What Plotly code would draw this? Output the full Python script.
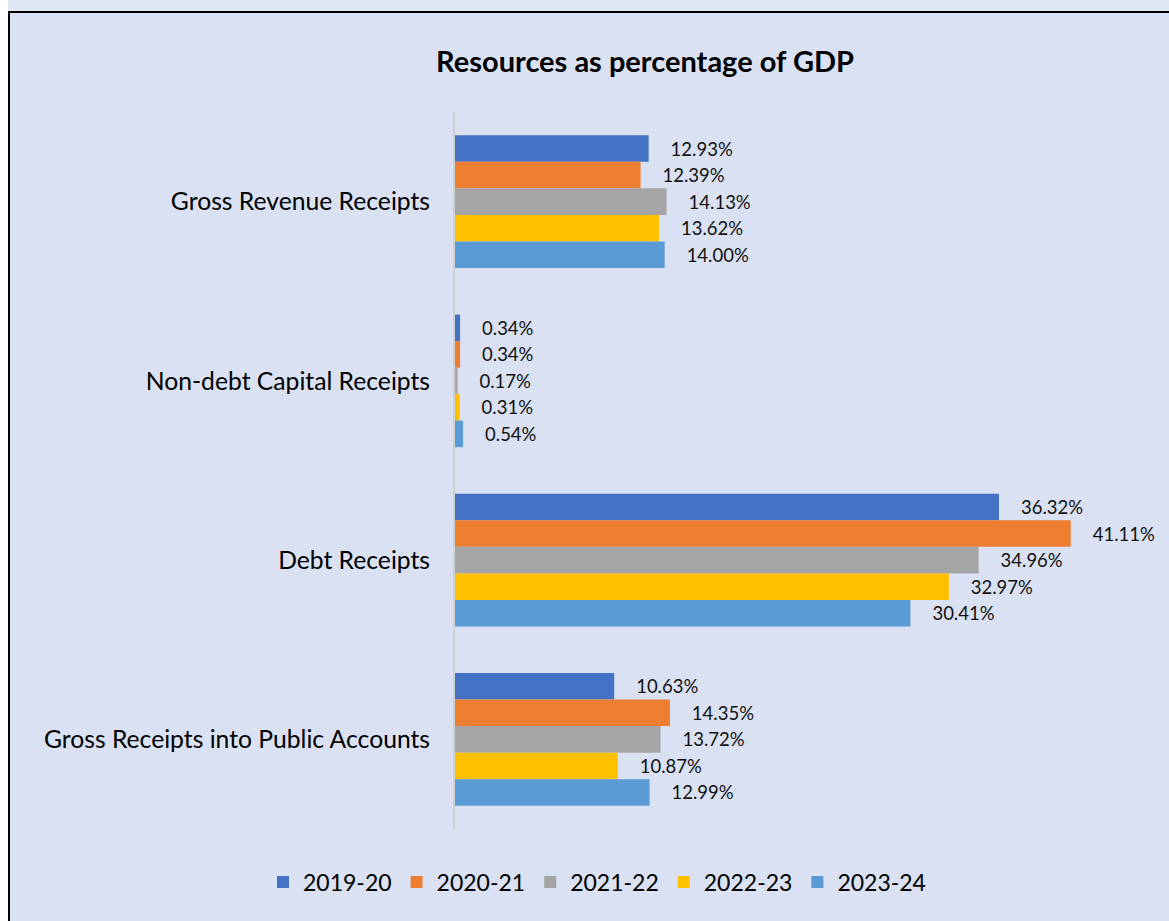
import plotly.graph_objects as go

# Chart data: resources as a share of GDP
categories = [
    "Gross Revenue Receipts",
    "Non-debt Capital Receipts",
    "Debt Receipts",
    "Gross Receipts into Public Accounts",
]
years = ["2019-20", "2020-21", "2021-22", "2022-23", "2023-24"]
values_2019_20 = [12.93, 0.34, 36.32, 10.63]
values_2020_21 = [12.39, 0.34, 41.11, 14.35]
values_2021_22 = [14.13, 0.17, 34.96, 13.72]
values_2022_23 = [13.62, 0.31, 32.97, 10.87]
values_2023_24 = [14.00, 0.54, 30.41, 12.99]
series = [values_2019_20, values_2020_21, values_2021_22, values_2022_23, values_2023_24]
colors = ["#4472C4", "#ED7D31", "#A5A5A5", "#FFC000", "#5B9BD5"]

W, H = 1169, 921
ML, MR, MT, MB = 455, 40, 112, 92
FONT = "Lato"

fig = go.Figure()
for name, vals, col in zip(years, series, colors):
    fig.add_trace(go.Bar(
        y=categories,
        x=vals,
        name=name,
        orientation="h",
        marker=dict(color=col, line=dict(width=0)),
        text=["\u00a0\u00a0\u00a0\u00a0" + f"{v:.2f}%" for v in vals],
        textposition="outside",
        cliponaxis=False,
        textfont=dict(family=FONT, size=18.5, color="#111111"),
        hoverinfo="skip",
    ))


def px_x(p):
    return (p - ML) / (W - ML - MR)


def px_y(p):
    return 1 - (p - MT) / (H - MT - MB)


shapes = [
    # white margin on the far left
    dict(type="rect", xref="paper", yref="paper", x0=px_x(0), x1=px_x(8),
         y0=px_y(0), y1=px_y(H), fillcolor="white", line=dict(width=0), layer="below"),
    # light strip across the top
    dict(type="rect", xref="paper", yref="paper", x0=px_x(8), x1=px_x(W),
         y0=px_y(0), y1=px_y(11), fillcolor="#DEE9F5", line=dict(width=0), layer="below"),
    # black frame lines
    dict(type="line", xref="paper", yref="paper", x0=px_x(9), x1=px_x(9),
         y0=px_y(11), y1=px_y(H), line=dict(color="black", width=2)),
    dict(type="line", xref="paper", yref="paper", x0=px_x(8), x1=px_x(W),
         y0=px_y(12), y1=px_y(12), line=dict(color="black", width=2)),
]

fig.update_layout(
    width=W,
    height=H,
    margin=dict(l=ML, r=MR, t=MT, b=MB, pad=0),
    paper_bgcolor="#D9E1F2",
    plot_bgcolor="#D9E1F2",
    barmode="group",
    bargap=0.26,
    bargroupgap=0,
    title=dict(
        text="<b>Resources as percentage of GDP</b>",
        x=645 / W,
        xref="container",
        xanchor="center",
        y=1 - 62 / H,
        yref="container",
        yanchor="middle",
        font=dict(family=FONT, size=29, color="black"),
    ),
    xaxis=dict(
        range=[0, 45],
        showticklabels=False,
        showgrid=False,
        zeroline=False,
        showline=False,
        ticks="",
        fixedrange=True,
    ),
    yaxis=dict(
        categoryorder="array",
        categoryarray=categories,
        autorange="reversed",
        showline=True,
        linecolor="#D0D0D0",
        linewidth=2,
        ticks="",
        ticklabelstandoff=18,
        tickfont=dict(family=FONT, size=24.7, color="black"),
        showgrid=False,
        zeroline=False,
    ),
    legend=dict(
        orientation="h",
        x=597 / W,
        xref="container",
        xanchor="center",
        y=1 - 882 / H,
        yref="container",
        yanchor="middle",
        font=dict(family=FONT, size=23, color="black"),
        bgcolor="rgba(0,0,0,0)",
        itemwidth=30,
        traceorder="normal",
    ),
    shapes=shapes,
    showlegend=True,
)

fig.write_html("out.html")
